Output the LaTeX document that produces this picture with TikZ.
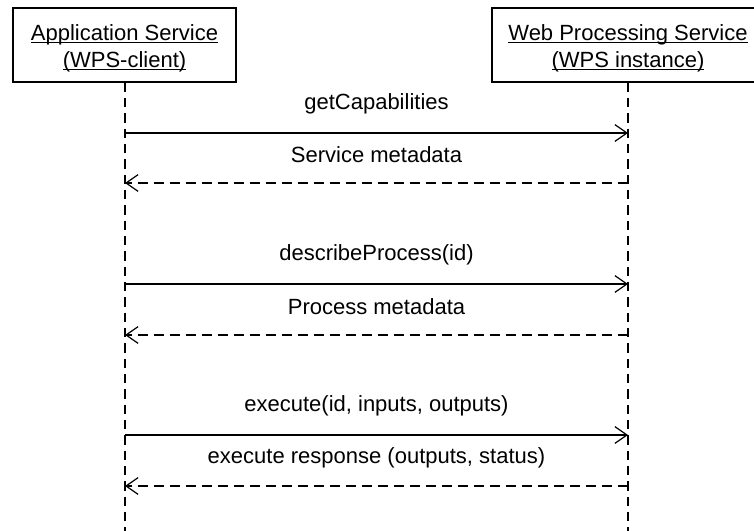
\documentclass[tikz,border=0pt]{standalone}
\usepackage{fontspec}
\setmainfont{Liberation Sans}
\usetikzlibrary{calc}
\usetikzlibrary{arrows.meta}

% underline just below the baseline
\newcommand{\ulbase}[1]{\setbox0\hbox{#1}\rlap{\rule[-2pt]{\wd0}{0.8pt}}\box0}

\tikzset{
  actor/.style={draw, line width=0.9pt, align=center, font=\fontsize{16.5}{20.25}\selectfont, minimum height=55.5pt},
  lifeline/.style={line width=0.9pt, dash pattern=on 7pt off 4.5pt},
  call/.style={line width=0.9pt, -{Straight Barb[length=9pt,width=12.5pt,line width=0.9pt]}},
  reply/.style={call, dash pattern=on 7.5pt off 4.5pt},
  msg/.style={font=\fontsize{16.5}{20}\selectfont}
}

\begin{document}
\begin{tikzpicture}[x=0.75pt,y=-0.75pt]
    % Fix the page size
    \useasboundingbox (0,0) rectangle (754,531);

    % The two parties
    \node[actor, minimum width=167.25pt] (client) at (124.5,45)
      {\rule{0pt}{17pt}\ulbase{Application Service}\\\ulbase{(WPS-client)}};
    \node[actor, minimum width=204pt] (wps) at (628,45)
      {\rule{0pt}{17pt}\ulbase{Web Processing Service}\\\ulbase{(WPS instance)}};

    % Lifelines
    \coordinate (clientEnd) at (125,531);
    \coordinate (wpsEnd) at (628,531);
    \draw[lifeline] (client.south -| clientEnd) -- (clientEnd);
    \draw[lifeline] (wps.south -| wpsEnd) -- (wpsEnd);

    % Message ends on the lifelines
    \coordinate (c1) at (125,133); \coordinate (w1) at (628,133);
    \coordinate (c2) at (125,183); \coordinate (w2) at (628,183);
    \coordinate (c3) at (125,284); \coordinate (w3) at (628,284);
    \coordinate (c4) at (125,335); \coordinate (w4) at (628,335);
    \coordinate (c5) at (125,435); \coordinate (w5) at (628,435);
    \coordinate (c6) at (125,486); \coordinate (w6) at (628,486);

    % Requests and replies
    \draw[call] (c1) -- (w1);
    \draw[reply] (w2) -- (c2);
    \draw[call] (c3) -- (w3);
    \draw[reply] (w4) -- (c4);
    \draw[call] (c5) -- (w5);
    \draw[reply] (w6) -- (c6);

    % Message labels
    \node[msg] (m1) at ($(c1)!0.5!(w1)+(0,-29)$) {getCapabilities};
    \node[msg] (m2) at ($(c2)!0.5!(w2)+(0,-28)$) {Service metadata};
    \node[msg] (m3) at ($(c3)!0.5!(w3)+(0,-29)$) {describeProcess(id)};
    \node[msg] (m4) at ($(c4)!0.5!(w4)+(0,-28)$) {Process metadata};
    \node[msg] (m5) at ($(c5)!0.5!(w5)+(0,-29)$) {execute(id, inputs, outputs)};
    \node[msg] (m6) at ($(c6)!0.5!(w6)+(0,-28)$) {execute response (outputs, status)};
\end{tikzpicture}
\end{document}
